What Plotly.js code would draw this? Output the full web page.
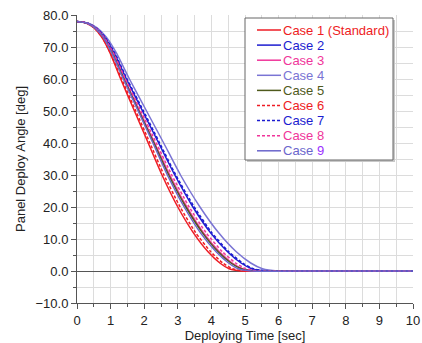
<!DOCTYPE html>
<html><head><meta charset="utf-8">
<script src="https://cdn.plot.ly/plotly-3.0.1.min.js"></script>
<style>html,body{margin:0;padding:0;background:#fff}#chart{width:422px;height:343px}</style>
</head><body><div id="chart"></div>
<script>
// Angle levels (deg) and crossing times (sec) for each case
const angle = [78, 77.5, 76, 73, 68, 60, 50, 40, 30, 20, 12, 6, 2.5, 0.7, 0, 0, 0];
const tCase1 = [0, 0.27, 0.50, 0.74, 0.99, 1.30, 1.71, 2.12, 2.53, 3.00, 3.46, 3.90, 4.25, 4.53, 4.88, 6.5, 10];
const tCase2 = [0, 0.30, 0.56, 0.83, 1.11, 1.47, 1.95, 2.43, 2.91, 3.45, 3.97, 4.48, 4.88, 5.20, 5.62, 7.0, 10];
const tCase3 = [0, 0.29, 0.54, 0.80, 1.07, 1.41, 1.86, 2.31, 2.76, 3.27, 3.76, 4.24, 4.62, 4.93, 5.32, 7.0, 10];
const tCase4 = [0, 0.32, 0.60, 0.88, 1.18, 1.56, 2.07, 2.58, 3.08, 3.66, 4.21, 4.74, 5.17, 5.52, 5.97, 7.5, 10];
const tCase5 = [0, 0.29, 0.53, 0.79, 1.06, 1.40, 1.84, 2.29, 2.73, 3.24, 3.73, 4.20, 4.58, 4.89, 5.27, 7.0, 10];
const tCase6 = [0, 0.28, 0.51, 0.75, 1.00, 1.33, 1.75, 2.17, 2.59, 3.07, 3.53, 3.98, 4.34, 4.62, 4.98, 6.5, 10];
const tCase7 = [0, 0.31, 0.57, 0.84, 1.13, 1.49, 1.98, 2.46, 2.94, 3.49, 4.01, 4.52, 4.93, 5.25, 5.67, 7.0, 10];
const tCase8 = [0, 0.29, 0.55, 0.81, 1.09, 1.44, 1.90, 2.36, 2.82, 3.34, 3.84, 4.33, 4.72, 5.03, 5.43, 7.0, 10];
const tCase9 = [0, 0.29, 0.53, 0.78, 1.04, 1.38, 1.82, 2.26, 2.69, 3.19, 3.67, 4.14, 4.51, 4.80, 5.18, 7.0, 10];

const names = ["Case 1 (Standard)", "Case 2", "Case 3", "Case 4", "Case 5", "Case 6", "Case 7", "Case 8", "Case 9"];
const times = [tCase1, tCase2, tCase3, tCase4, tCase5, tCase6, tCase7, tCase8, tCase9];
const colors = ["#ee1c24", "#1c1cd0", "#f0359a", "#7a74d4", "#4f5a1c", "#ee1c24", "#1c1cd0", "#f0359a", "#6b66cc"];
const dashes = ["solid", "solid", "solid", "solid", "solid", "3px,2px", "3px,2px", "3px,2px", "solid"];

const traces = names.map((n, i) => ({
  x: times[i], y: angle, type: "scatter", mode: "lines", name: n, showlegend: false,
  line: {color: colors[i], width: 1.5, dash: dashes[i], shape: "spline", smoothing: 0.6}
}));

// Legend drawn with shapes + annotations (paper coords)
const L = 77, R = 413, T = 15, B = 303;
const px = v => (v - L) / (R - L);
const py = v => (B - v) / (B - T);
const shapes = [
  {type: "rect", xref: "paper", yref: "paper", x0: px(247), x1: px(395), y0: py(20), y1: py(162),
   fillcolor: "#c8c8c8", line: {width: 0}, layer: "above"},
  {type: "rect", xref: "paper", yref: "paper", x0: px(245), x1: px(393), y0: py(18), y1: py(160),
   fillcolor: "#fff", line: {color: "#666", width: 1}, layer: "above"}
];
const annotations = [];
names.forEach((n, i) => {
  const yc = 30 + i * 15.1;
  shapes.push({type: "line", xref: "paper", yref: "paper", x0: px(257), x1: px(281), y0: py(yc), y1: py(yc),
               line: {color: colors[i], width: 1.5, dash: dashes[i]}, layer: "above"});
  annotations.push({xref: "paper", yref: "paper", x: px(281), y: py(yc), xanchor: "left", yanchor: "middle",
    showarrow: false, align: "left",
    text: i === 8 ? "Case <span style='color:#9b30ff'>9</span>" : n,
    font: {family: "Liberation Sans, Arial, sans-serif", size: 13, color: colors[i]}});
});

const axFont = {family: "Liberation Sans, Arial, sans-serif", size: 13, color: "#222"};
const layout = {
  width: 422, height: 343,
  margin: {l: 77, r: 9, t: 15, b: 40},
  paper_bgcolor: "#fff", plot_bgcolor: "#fff",
  font: axFont,
  showlegend: false,
  shapes: shapes, annotations: annotations,
  xaxis: {range: [0, 10], dtick: 1, tick0: 0, showgrid: true, gridcolor: "#dcdcdc",
          showline: true, linecolor: "#555", ticks: "outside", ticklen: 5, tickcolor: "#555",
          zeroline: false, tickfont: axFont,
          minor: {dtick: 0.5, showgrid: true, gridcolor: "#dcdcdc", ticks: "outside", ticklen: 3, tickcolor: "#555"},
          title: {text: "Deploying Time [sec]", font: axFont, standoff: 2}},
  yaxis: {range: [-10, 80], dtick: 10, tick0: 0, tickformat: ".1f", showgrid: true, gridcolor: "#dcdcdc",
          showline: true, linecolor: "#555", ticks: "outside", ticklen: 5, tickcolor: "#555",
          zeroline: true, zerolinecolor: "#555", zerolinewidth: 1, tickfont: axFont,
          minor: {dtick: 5, showgrid: true, gridcolor: "#dcdcdc", ticks: "outside", ticklen: 3, tickcolor: "#555"},
          title: {text: "Panel Deploy Angle [deg]", font: axFont, standoff: 6}}
};
Plotly.newPlot("chart", traces, layout, {displayModeBar: false, staticPlot: true});
</script></body></html>
